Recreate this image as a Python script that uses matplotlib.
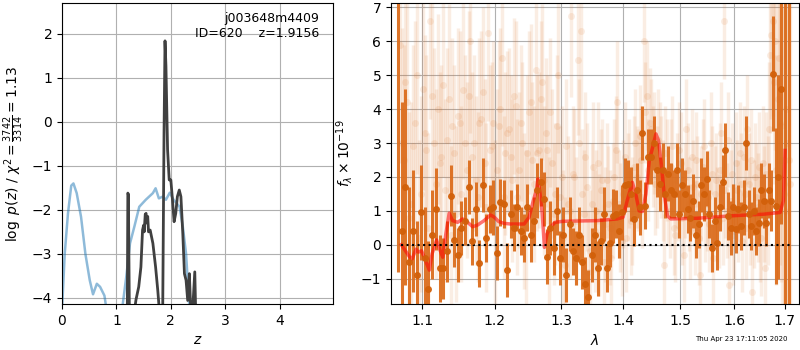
import numpy as np
import matplotlib
matplotlib.use('Agg')
import matplotlib.pyplot as plt

# p(z) panel
prior_z = [0.0, 0.05, 0.11, 0.17, 0.21, 0.27, 0.35, 0.43, 0.51, 0.57, 0.64, 0.70, 0.78, 0.81, 0.90,
           1.05, 1.10, 1.18, 1.25, 1.33, 1.42, 1.54, 1.67, 1.72, 1.78, 1.85, 1.91, 1.98, 2.05,
           2.16, 2.22, 2.28, 2.34, 2.45]
prior_lnp = [-4.3, -3.0, -2.08, -1.45, -1.40, -1.62, -2.16, -3.0, -3.6, -3.92, -3.68, -3.75, -3.95, -4.2, -5.0,
             -5.0, -4.3, -3.53, -2.76, -2.38, -1.93, -1.77, -1.62, -1.51, -1.74, -1.70, -1.77, -1.61, -1.77,
             -1.93, -2.38, -3.0, -4.2, -5.0]

pz_z = [1.17, 1.20, 1.21, 1.22, 1.24, 1.30, 1.33, 1.36, 1.41, 1.45, 1.48, 1.50, 1.51, 1.53, 1.545,
        1.56, 1.575, 1.59, 1.62, 1.67, 1.72, 1.76, 1.79, 1.85, 1.875, 1.893, 1.91, 1.94, 1.97,
        2.0, 2.03, 2.06, 2.09, 2.12, 2.155, 2.185, 2.22, 2.25, 2.28, 2.31, 2.34, 2.37, 2.40,
        2.44, 2.46, 2.50]
pz_lnp = [-5.0, -4.3, -1.62, -1.65, -4.6, -5.0, -4.3, -4.04, -3.75, -3.3, -2.46, -2.35, -2.5, -2.1, -2.08,
          -2.3, -2.15, -2.5, -2.46, -2.76, -3.3, -3.83, -4.3, -4.4, -0.25, 1.84, 1.27, -0.63, -1.32,
          -1.32, -1.77, -2.27, -2.08, -1.70, -1.55, -1.70, -2.54, -3.45, -3.6, -4.06, -3.45, -4.4, -4.3,
          -3.41, -4.5, -5.0]

# binned spectrum
bin_wave = [1.068, 1.073, 1.078, 1.083, 1.088, 1.093, 1.098, 1.103, 1.108, 1.113,
            1.118, 1.123, 1.128, 1.133, 1.138, 1.143, 1.148, 1.153, 1.158, 1.163,
            1.168, 1.173, 1.178, 1.183, 1.188, 1.193, 1.198, 1.203, 1.208, 1.213,
            1.218, 1.223, 1.228, 1.233, 1.238, 1.243, 1.248, 1.253, 1.258, 1.263,
            1.268, 1.273, 1.278, 1.283, 1.288, 1.293, 1.298, 1.303, 1.308, 1.313,
            1.318, 1.323, 1.328, 1.333, 1.338, 1.343, 1.348, 1.353, 1.358, 1.363,
            1.368, 1.373, 1.378, 1.383, 1.388, 1.393, 1.398, 1.403, 1.408, 1.413,
            1.418, 1.423, 1.428, 1.433, 1.438, 1.443, 1.448, 1.453, 1.458, 1.463,
            1.468, 1.473, 1.478, 1.483, 1.488, 1.493, 1.498, 1.503, 1.508, 1.513,
            1.518, 1.523, 1.528, 1.533, 1.538, 1.543, 1.548, 1.553, 1.558, 1.563,
            1.568, 1.573, 1.578, 1.583, 1.588, 1.593, 1.598, 1.603, 1.608, 1.613,
            1.618, 1.623, 1.628, 1.633, 1.638, 1.643, 1.648, 1.653, 1.658, 1.663,
            1.668, 1.673, 1.677, 1.682, 1.687, 1.692, 1.700, 1.708]
bin_flux = [7.5, 0.4, 1.7, -0.5, 0.4, -0.9, 0.95, -0.4, -1.3, 0.3,
            1.05, -0.7, -0.7, -0.2, 1.45, 0.15, -0.3, 0.5, 0.7, 1.7,
            0.1, 1.05, -0.55, 1.75, 0.2, 1.05, 1.1, -0.25, 1.25, 1.2,
            -0.75, 0.9, 0.5, 1.1, 0.4, 0.2, 1.1, 0.3, 0.7, 1.6,
            1.85, 1.35, -0.35, 0.5, -0.1, 1.0, -0.4, 0.3, -0.9, 0.6,
            -0.2, -0.4, 0.3, -0.5, -1.15, -1.55, -0.3, 0.3, -0.7, 0.1,
            0.9, -0.7, 0.05, 0.85, 0.9, 0.4, 0.95, 1.75, 1.8, 1.5,
            0.75, 1.6, 1.1, 3.3, 1.15, 2.6, 2.6, 3.0, 2.2, 1.8,
            2.2, 1.5, 2.1, 1.6, 1.5, 2.2, 0.9, 1.75, 1.5, 1.05,
            0.8, 1.3, 0.3, 0.6, 1.75, 1.5, 1.95, 0.9, -0.1, 0.7,
            0.05, 1.1, 1.85, 2.8, 0.85, 0.5, 1.1, 0.45, 1.05, 0.55,
            1.1, 3.0, 0.9, 0.55, 1.0, 0.4, 0.65, 1.6, 1.3, 0.65,
            1.6, 1.3, 5.05, 1.15, 2.0, 4.6, 8.0, 8.0]
bin_err = [8.3, 3.8, 2.9, 2.2, 1.8, 1.6, 1.4, 1.5, 1.4, 1.3,
           1.2, 1.0, 0.9, 0.9, 0.9, 0.8, 0.8, 0.8, 0.7, 0.8,
           0.7, 0.8, 0.7, 0.8, 0.7, 0.7, 0.8, 0.8, 0.7, 0.7,
           0.8, 0.7, 0.7, 0.7, 0.7, 0.7, 0.7, 0.8, 0.7, 0.8,
           0.7, 0.8, 0.8, 0.8, 0.8, 0.7, 0.8, 0.8, 0.8, 0.8,
           0.7, 0.8, 0.8, 0.8, 0.8, 0.8, 0.8, 0.8, 0.8, 0.7,
           0.8, 0.7, 0.7, 0.8, 0.7, 0.8, 0.8, 0.8, 0.7, 0.8,
           0.8, 0.8, 0.8, 0.8, 0.7, 0.8, 0.8, 0.8, 0.8, 0.8,
           0.8, 0.7, 0.8, 0.8, 0.7, 0.8, 0.7, 0.8, 0.7, 0.7,
           0.7, 0.8, 0.7, 0.7, 0.8, 0.8, 0.8, 0.7, 0.7, 0.7,
           0.8, 0.7, 0.8, 0.8, 0.7, 0.8, 0.7, 0.7, 0.7, 0.7,
           0.8, 0.8, 0.7, 0.7, 0.7, 0.7, 0.7, 0.8, 0.8, 0.7,
           0.8, 0.9, 1.7, 2.3, 3.0, 4.0, 10.0, 10.0]

# unbinned spectrum (faint), two interleaved sets
raw_wave = [1.0705, 1.0755, 1.0805, 1.0855, 1.0905, 1.0955, 1.1005, 1.1055, 1.1105, 1.1155,
            1.1205, 1.1255, 1.1305, 1.1355, 1.1405, 1.1455, 1.1505, 1.1555, 1.1605, 1.1655,
            1.1705, 1.1755, 1.1805, 1.1855, 1.1905, 1.1955, 1.2005, 1.2055, 1.2105, 1.2155,
            1.2205, 1.2255, 1.2305, 1.2355, 1.2405, 1.2455, 1.2505, 1.2555, 1.2605, 1.2655,
            1.2705, 1.2755, 1.2805, 1.2855, 1.2905, 1.2955, 1.3005, 1.3055, 1.3105, 1.3155,
            1.3205, 1.3255, 1.3305, 1.3355, 1.3405, 1.3455, 1.3505, 1.3555, 1.3605, 1.3655,
            1.3705, 1.3755, 1.3805, 1.3855, 1.3905, 1.3955, 1.4005, 1.4055, 1.4105, 1.4155,
            1.4205, 1.4255, 1.4305, 1.4355, 1.4405, 1.4455, 1.4505, 1.4555, 1.4605, 1.4655,
            1.4705, 1.4755, 1.4805, 1.4855, 1.4905, 1.4955, 1.5005, 1.5055, 1.5105, 1.5155,
            1.5205, 1.5255, 1.5305, 1.5355, 1.5405, 1.5455, 1.5505, 1.5555, 1.5605, 1.5655,
            1.5705, 1.5755, 1.5805, 1.5855, 1.5905, 1.5955, 1.6005, 1.6055, 1.6105, 1.6155,
            1.6205, 1.6255, 1.6305, 1.6355, 1.6405, 1.6455, 1.6505, 1.6555, 1.6605, 1.6655,
            1.6705, 1.6755, 1.6805, 1.6855, 1.6905, 1.6955, 1.7005, 1.7055, 1.7105]
raw_flux = [5.9, 2.5, 4.2, 1.2, 3.6, 0.2, 4.6, 2.8, 6.6, 3.0,
            4.0, 2.6, 1.6, 4.3, 3.5, 0.9, 3.6, 4.55, 2.2, 6.0,
            3.0, 1.4, 3.7, 2.4, 6.25, 2.9, 0.6, 3.5, 5.5, 2.7,
            3.4, 1.9, 4.1, 2.2, 3.0, 0.5, 3.9, 2.5, 5.15, 2.8,
            4.8, 3.3, 0.4, 2.4, 1.5, 5.0, 2.0, -0.6, 1.2, 6.75,
            2.0, 5.45, 6.3, 0.9, 1.7, -0.2, 2.3, 1.0, 0.3, 1.9,
            0.6, 1.2, -0.4, 2.0, 4.2, 0.8, 1.5, 0.2, 2.1, 1.0,
            3.0, 1.9, 2.5, 6.0, 4.4, 3.6, 2.6, 1.8, 3.1, 2.3,
            -0.6, 2.2, 1.0, 2.9, 0.3, 1.5, 2.4, -0.3, 3.4, 1.2,
            2.6, 0.5, 1.8, -0.9, 2.3, 0.9, 1.4, 3.0, -0.4, 1.9,
            0.7, 3.3, 6.6, 1.0, -1.2, 2.1, 0.4, 1.6, 2.7, 0.1,
            1.5, 3.4, 0.9, -1.4, 2.0, 1.1, 0.6, 2.4, -0.7, 1.3,
            5.6, 6.6, 6.0, 4.3, 3.6, 2.5, 1.0, 3.0, 1.8]
raw_err = [3.5, 3.4, 3.2, 3.0, 3.0, 2.9, 3.0, 2.8, 2.9, 2.8,
           2.8, 2.7, 2.7, 2.8, 2.6, 2.6, 2.7, 2.6, 2.6, 2.7,
           2.6, 2.5, 2.6, 2.5, 2.6, 2.5, 2.5, 2.5, 2.6, 2.4,
           2.4, 2.4, 2.5, 2.3, 2.4, 2.3, 2.4, 2.3, 2.5, 2.3,
           2.3, 2.2, 2.2, 2.2, 2.1, 2.3, 2.1, 2.0, 2.0, 2.4,
           2.0, 2.2, 2.3, 1.9, 1.9, 1.8, 1.9, 1.8, 1.8, 1.8,
           1.7, 1.7, 1.7, 1.7, 1.8, 1.6, 1.6, 1.6, 1.6, 1.6,
           1.6, 1.5, 1.6, 1.8, 1.6, 1.6, 1.5, 1.5, 1.5, 1.5,
           1.5, 1.5, 1.4, 1.5, 1.4, 1.4, 1.5, 1.4, 1.5, 1.4,
           1.4, 1.4, 1.4, 1.4, 1.4, 1.4, 1.4, 1.5, 1.4, 1.4,
           1.4, 1.5, 1.7, 1.4, 1.5, 1.5, 1.4, 1.5, 1.5, 1.5,
           1.5, 1.6, 1.5, 1.6, 1.6, 1.6, 1.7, 1.7, 1.8, 1.9,
           2.3, 2.8, 3.2, 3.6, 4.2, 5.0, 6.0, 7.0, 8.0]

raw2_wave = [1.073, 1.078, 1.083, 1.088, 1.093, 1.098, 1.103, 1.108, 1.113, 1.118,
             1.123, 1.128, 1.133, 1.138, 1.143, 1.148, 1.153, 1.158, 1.163, 1.168,
             1.173, 1.178, 1.183, 1.188, 1.193, 1.198, 1.203, 1.208, 1.213, 1.218,
             1.223, 1.228, 1.233, 1.238, 1.243, 1.248, 1.253, 1.258, 1.263, 1.268,
             1.273, 1.278, 1.283, 1.288, 1.293, 1.298, 1.303, 1.308, 1.313, 1.318,
             1.323, 1.328, 1.333, 1.338, 1.343, 1.348, 1.353, 1.358, 1.363, 1.368,
             1.373, 1.378, 1.383, 1.388, 1.393, 1.398, 1.403, 1.408, 1.413, 1.418,
             1.423, 1.428, 1.433, 1.438, 1.443, 1.448, 1.453, 1.458, 1.463, 1.468,
             1.473, 1.478, 1.483, 1.488, 1.493, 1.498, 1.503, 1.508, 1.513, 1.518,
             1.523, 1.528, 1.533, 1.538, 1.543, 1.548, 1.553, 1.558, 1.563, 1.568,
             1.573, 1.578, 1.583, 1.588, 1.593, 1.598, 1.603, 1.608, 1.613, 1.618,
             1.623, 1.628, 1.633, 1.638, 1.643, 1.648, 1.653, 1.658, 1.663, 1.668,
             1.673, 1.678, 1.683, 1.688, 1.693, 1.698, 1.703, 1.708]
raw2_flux = [3.0, 4.8, 0.8, 2.9, 5.0, 1.5, 3.3, 0.5, 4.4, 1.8,
             2.4, 4.7, 3.1, 0.3, 2.7, 3.8, 1.5, 3.0, 4.4, 2.6,
             1.9, 3.6, 4.5, 1.1, 2.8, 3.6, 2.2, 4.0, 1.4, 3.3,
             2.6, 4.4, 1.4, 3.6, 1.0, 2.7, 4.2, 1.8, 2.7, 4.3,
             1.9, 2.8, 3.9, 0.9, 3.5, 1.4, 0.2, 2.9, 1.0, 2.1,
             0.7, 3.0, 1.5, 2.6, -0.8, 1.2, 0.4, 2.4, 1.6, -0.5,
             1.9, 0.5, 1.3, 2.8, 1.2, 0.1, 2.6, 1.7, 0.7, 2.3,
             2.0, 3.2, 1.4, 3.9, 2.2, 3.4, 3.0, 2.0, 2.7, 1.6,
             2.7, 1.4, 2.3, 0.5, 1.9, 2.8, 0.8, 1.6, 2.2, 0.4,
             1.7, 2.5, 0.2, 1.5, 2.9, 1.2, 0.6, 2.1, 1.5, 0.9,
             2.2, 0.8, 1.6, 3.1, 1.3, 0.3, 2.4, 1.0, 1.8, 2.6,
             0.5, 1.8, 2.5, 0.9, 1.4, 2.3, 0.2, 1.2, 2.1, 3.4,
             6.2, 4.8, 2.2, 5.5, 3.5, 1.5, 4.0, 2.5]
raw2_err = [3.4, 3.3, 3.1, 3.0, 2.9, 2.9, 2.9, 2.8, 2.8, 2.8,
            2.7, 2.7, 2.7, 2.6, 2.6, 2.6, 2.6, 2.6, 2.5, 2.5,
            2.5, 2.5, 2.5, 2.5, 2.5, 2.4, 2.4, 2.4, 2.4, 2.4,
            2.4, 2.3, 2.3, 2.3, 2.3, 2.3, 2.3, 2.3, 2.3, 2.3,
            2.2, 2.2, 2.2, 2.1, 2.1, 2.1, 2.0, 2.0, 2.0, 2.0,
            1.9, 1.9, 1.9, 1.9, 1.8, 1.8, 1.8, 1.8, 1.8, 1.7,
            1.7, 1.7, 1.7, 1.6, 1.6, 1.6, 1.6, 1.6, 1.6, 1.5,
            1.5, 1.5, 1.5, 1.5, 1.5, 1.5, 1.5, 1.5, 1.5, 1.5,
            1.4, 1.4, 1.4, 1.4, 1.4, 1.4, 1.4, 1.4, 1.4, 1.4,
            1.4, 1.4, 1.4, 1.4, 1.4, 1.4, 1.4, 1.4, 1.4, 1.4,
            1.4, 1.4, 1.4, 1.4, 1.5, 1.5, 1.5, 1.5, 1.5, 1.5,
            1.5, 1.5, 1.5, 1.6, 1.6, 1.6, 1.7, 1.7, 1.8, 2.0,
            2.5, 3.0, 3.4, 3.9, 4.6, 5.5, 6.5, 7.5]

# best-fit model
model_wave = [1.0726, 1.0836, 1.0867, 1.0916, 1.0947, 1.0991, 1.106, 1.1093, 1.113, 1.119,
              1.1231, 1.1273, 1.1315, 1.1361, 1.1407, 1.1477, 1.1546, 1.1616, 1.1685, 1.1755,
              1.1847, 1.194, 1.1995, 1.2059, 1.2134, 1.2233, 1.2431, 1.2505, 1.2569, 1.2614,
              1.2639, 1.2668, 1.2703, 1.2738, 1.2777, 1.2827, 1.2901, 1.3027, 1.3574, 1.3902,
              1.40, 1.407, 1.4157, 1.4215, 1.4273, 1.4331, 1.439, 1.4448, 1.4506, 1.4564,
              1.461, 1.4651, 1.4709, 1.4767, 1.4826, 1.5307, 1.592, 1.6576, 1.6907, 1.6974, 1.7007]
model_flux = [0.0, -0.37, -0.42, -0.13, -0.22, -0.18, -0.57, -0.75, -0.27, 0.14,
              -0.13, -0.37, 0.31, 0.93, 0.71, 0.66, 0.76, 0.66, 0.53, 0.58,
              0.71, 0.88, 0.81, 0.68, 0.63, 0.61, 0.61, 0.81, 1.3, 1.59,
              1.94, 1.55, 0.95, -0.08, 0.31, 0.51, 0.66, 0.69, 0.71, 0.76,
              0.81, 1.3, 1.84, 1.5, 1.0, 0.98, 1.5, 2.48, 2.87, 3.27,
              3.07, 2.48, 1.5, 0.85, 0.76, 0.78, 0.85, 0.90, 0.95, 1.3, 2.78]

wave_ticks = [1.1, 1.2, 1.3, 1.4, 1.5, 1.6, 1.7]
orange = '#dc6e1e'

fig = plt.figure(figsize=(8, 3.5), dpi=100)

ax = fig.add_axes([0.0775, 0.1314, 0.33875, 0.86])
ax.plot(prior_z, prior_lnp, color='C0', alpha=0.5, lw=1.8)
ax.plot(pz_z, pz_lnp, color='0.25', lw=2)
ax.set_xlim(0, 4.98)
ax.set_ylim(-4.14, 2.70)
ax.set_xticks([0, 1, 2, 3, 4])
ax.set_yticks([-4, -3, -2, -1, 0, 1, 2])
ax.grid()
ax.set_xlabel(r'$z$')
ax.set_ylabel(r'$\log\ p(z)$' + ' / ' + r'$\chi^2=\frac{3742}{3314}=1.13$')
ax.text(0.95, 0.97, 'j003648m4409\nID=620    z=1.9156', ha='right', va='top',
        transform=ax.transAxes, fontsize=9)

bx = fig.add_axes([0.48875, 0.1314, 0.51, 0.86])
for w, f, e in [(raw_wave, raw_flux, raw_err), (raw2_wave, raw2_flux, raw2_err)]:
    bx.errorbar(w, f, e, color=orange, alpha=0.12, marker='o',
                ms=5, linestyle='None', lw=2.5, mec='None')
bx.errorbar(bin_wave, bin_flux, bin_err, color=orange, alpha=0.95, marker='o',
            ms=5, linestyle='None', lw=2.2, mec='None', mfc='#d2600a')
bx.plot(model_wave, model_flux, color='r', alpha=0.55, lw=2.5)
bx.plot([1.0726, 1.718], [0, 0], color='k', linestyle=':', lw=1.5)
bx.set_xscale('log')
bx.set_xticks(wave_ticks)
bx.set_xticklabels(['1.1', '1.2', '1.3', '1.4', '1.5', '1.6', '1.7'])
bx.xaxis.set_minor_locator(matplotlib.ticker.NullLocator())
bx.set_xlim(1.0594, 1.7295)
bx.set_ylim(-1.75, 7.13)
bx.grid()
bx.set_xlabel(r'$\lambda$')
bx.set_ylabel(r'$f_\lambda\times10^{-19}$')

fig.text(0.985, 0.031, 'Thu Apr 23 17:11:05 2020', ha='right', va='center', fontsize=5)

fig.savefig('out.png', dpi=100)
